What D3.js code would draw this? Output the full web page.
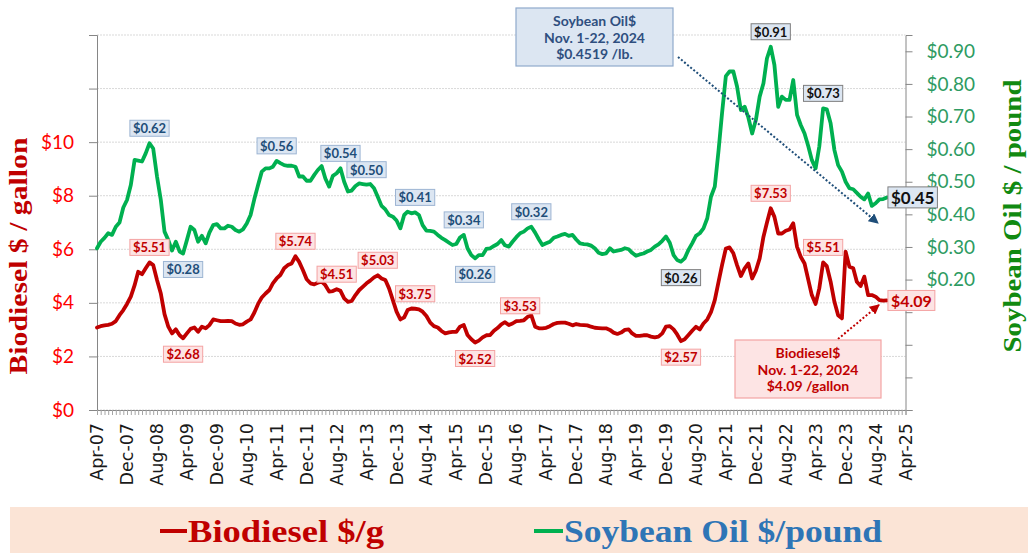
<!DOCTYPE html>
<html><head><meta charset="utf-8">
<script src="https://cdn.jsdelivr.net/npm/d3@7"></script>
<style>body{margin:0;background:#fff;} svg{display:block;}</style>
</head><body><svg id="c" width="1028" height="554"></svg>
<script>
// ---------- DATA ----------
const firstMonth = "2007-04";   // first observation
const biodiesel = [3.08,3.13,3.16,3.18,3.22,3.32,3.54,3.73,3.96,4.23,4.66,5.16,5.07,5.29,5.51,5.41,4.85,4.35,3.58,3.11,
2.86,3.01,2.79,2.68,2.86,3.03,3.08,2.92,3.11,3.05,3.17,3.38,3.35,3.32,3.32,3.33,3.32,3.23,3.18,3.20,
3.30,3.38,3.63,3.96,4.20,4.35,4.48,4.73,4.91,5.04,5.29,5.41,5.47,5.74,5.53,5.22,4.88,4.73,4.69,4.75,
4.79,4.66,4.42,4.44,4.51,4.45,4.17,4.04,4.07,4.29,4.48,4.60,4.73,4.83,4.95,5.03,4.91,4.85,4.54,4.10,
3.67,3.38,3.46,3.73,3.79,3.78,3.76,3.67,3.51,3.26,3.13,3.08,2.95,2.86,2.90,2.92,2.92,3.11,3.17,2.80,
2.64,2.52,2.59,2.71,2.79,2.80,2.96,3.06,3.20,3.28,3.17,3.23,3.32,3.33,3.35,3.48,3.53,3.11,3.05,3.05,
3.07,3.13,3.21,3.25,3.26,3.26,3.22,3.16,3.21,3.18,3.17,3.16,3.11,3.07,3.06,3.05,3.05,2.99,2.89,2.84,
2.89,2.99,3.01,2.86,2.77,2.77,2.79,2.79,2.74,2.71,2.74,2.86,3.11,3.13,3.01,2.82,2.57,2.64,2.80,2.96,
3.11,3.01,3.23,3.38,3.65,4.10,4.79,5.41,6.03,6.07,5.85,5.41,5.00,5.29,5.47,4.91,5.20,5.66,6.47,6.99,
7.53,7.21,6.59,6.59,6.69,6.74,6.97,6.09,5.72,5.47,4.85,4.29,3.96,4.54,5.51,5.37,4.79,4.04,3.54,3.42,
5.91,5.35,5.29,4.79,4.63,4.98,4.29,4.29,4.23,4.10,4.08,4.09];
const soybean = [0.296,0.316,0.328,0.342,0.337,0.362,0.375,0.421,0.444,0.490,0.567,0.565,0.562,0.587,0.618,0.602,0.516,0.444,0.347,0.321,
0.289,0.316,0.286,0.280,0.321,0.362,0.352,0.316,0.334,0.311,0.344,0.367,0.370,0.357,0.357,0.365,0.362,0.352,0.347,0.354,
0.372,0.398,0.446,0.490,0.531,0.541,0.541,0.546,0.564,0.557,0.551,0.549,0.549,0.546,0.516,0.516,0.503,0.503,0.521,0.536,
0.548,0.510,0.485,0.518,0.526,0.541,0.500,0.470,0.473,0.487,0.495,0.493,0.491,0.493,0.480,0.454,0.426,0.415,0.398,0.393,
0.381,0.357,0.398,0.408,0.403,0.406,0.398,0.367,0.350,0.349,0.347,0.337,0.328,0.321,0.313,0.306,0.309,0.329,0.337,0.296,
0.275,0.265,0.275,0.275,0.294,0.296,0.303,0.309,0.321,0.305,0.301,0.316,0.330,0.342,0.347,0.357,0.362,0.344,0.323,0.306,
0.311,0.316,0.328,0.332,0.337,0.340,0.334,0.337,0.323,0.311,0.309,0.308,0.304,0.296,0.282,0.278,0.280,0.296,0.286,0.289,
0.291,0.296,0.293,0.282,0.273,0.277,0.280,0.286,0.291,0.301,0.308,0.319,0.332,0.313,0.275,0.260,0.255,0.265,0.291,0.311,
0.334,0.342,0.357,0.388,0.454,0.485,0.597,0.710,0.824,0.838,0.838,0.792,0.720,0.730,0.697,0.648,0.689,0.761,0.802,0.878,
0.914,0.858,0.730,0.761,0.751,0.751,0.812,0.705,0.674,0.648,0.608,0.567,0.541,0.608,0.725,0.722,0.679,0.597,0.551,0.531,
0.500,0.480,0.477,0.466,0.454,0.446,0.464,0.426,0.434,0.446,0.447,0.452];

const xTickLabels = ["Apr-07","Dec-07","Aug-08","Apr-09","Dec-09","Aug-10","Apr-11","Dec-11","Aug-12","Apr-13",
"Dec-13","Aug-14","Apr-15","Dec-15","Aug-16","Apr-17","Dec-17","Aug-18","Apr-19","Dec-19","Aug-20","Apr-21",
"Dec-21","Aug-22","Apr-23","Dec-23","Aug-24","Apr-25"];
const leftTicks = [0,2,4,6,8,10,12,14];
const leftTickLabels = ["$0","$2","$4","$6","$8","$10","",""];
const rightTicks = [-0.2,-0.1,0,0.1,0.2,0.3,0.4,0.5,0.6,0.7,0.8,0.9];
const rightTickLabels = ["","","","","$0.20","$0.30","$0.40","$0.50","$0.60","$0.70","$0.80","$0.90"];

// data labels: month, text, side, style
const soyLabels = [
 ["2008-06","$0.62","above","blue"],["2009-03","$0.28","below","blue"],["2011-04","$0.56","above","blue"],
 ["2012-09","$0.54","above","blue"],["2013-04","$0.50","above","blue"],["2014-05","$0.41","above","blue"],
 ["2015-06","$0.34","above","blue"],["2015-09","$0.26","below","blue"],["2016-12","$0.32","above","blue"],
 ["2020-04","$0.26","below","dark"],["2022-04","$0.91","above","dark"],["2023-06","$0.73","above","dark"],
 ["2024-11","$0.45","right","darkbig"]];
const bioLabels = [
 ["2008-06","$5.51","above","red"],["2009-03","$2.68","below","red"],["2011-09","$5.74","above","red"],
 ["2012-08","$4.51","above","red"],["2013-07","$5.03","above","red"],["2014-05","$3.75","above","red"],
 ["2015-09","$2.52","below","red"],["2016-09","$3.53","above","red"],["2020-04","$2.57","below","red"],
 ["2022-04","$7.53","above","red"],["2023-06","$5.51","above","red"],["2024-11","$4.09","right","redbig"]];

const soyNote = ["Soybean Oil$","Nov. 1-22, 2024","$0.4519 /lb."];
const bioNote = ["Biodiesel$","Nov. 1-22, 2024","$4.09 /gallon"];
const legendItems = [["Biodiesel $/g","#C00000","#C00000"],["Soybean Oil $/pound","#00B050","#2E75B6"]];

// ---------- CHART ----------
const svg = d3.select("#c");
const parseM = d3.timeParse("%Y-%m");
const t0 = parseM(firstMonth);
const months = biodiesel.map((_,i)=>d3.timeMonth.offset(t0,i));
const xStart = parseM("2007-04"), xEnd = parseM("2025-04");
const L = 97, R = 905.5, T = 35, B = 410;
const x = d3.scaleTime().domain([xStart,xEnd]).range([L,R]);
const yL = d3.scaleLinear().domain([0,14]).range([B,T]);
const yR = d3.scaleLinear().domain([-0.2,0.95]).range([B,T]);

// gridlines
svg.append("g").selectAll("line").data(leftTicks).join("line")
  .attr("x1",L).attr("x2",R).attr("y1",d=>yL(d)).attr("y2",d=>yL(d))
  .attr("stroke","#d9d9d9").attr("stroke-width",1).attr("stroke-dasharray","2,1");

// left axis
const axL = svg.append("g").attr("transform",`translate(${L},0)`)
  .call(d3.axisLeft(yL).tickValues(leftTicks).tickSize(8).tickPadding(15).tickFormat((d,i)=>leftTickLabels[i]));
axL.select(".domain").attr("stroke","#868686");
axL.selectAll(".tick line").attr("stroke","#868686");
axL.selectAll("text").attr("fill","#FF0000").attr("font-family","Lato, sans-serif").attr("font-size",19);

// right axis
const axR = svg.append("g").attr("transform",`translate(${R},0)`)
  .call(d3.axisRight(yR).tickValues(rightTicks).tickSize(7).tickPadding(14).tickFormat((d,i)=>rightTickLabels[i]));
axR.select(".domain").attr("stroke","#868686");
axR.selectAll(".tick line").attr("stroke","#868686");
axR.selectAll("text").attr("fill","#2E9B62").attr("font-family","Lato, sans-serif").attr("font-size",19);

// bottom axis minor ticks
const axB = svg.append("g").attr("transform",`translate(0,${B})`)
  .call(d3.axisBottom(x).tickValues(d3.timeMonth.range(xStart,d3.timeMonth.offset(xEnd,1))).tickSize(5).tickFormat(""));
axB.select(".domain").attr("stroke","#868686");
axB.selectAll(".tick line").attr("stroke","#a6a6a6");
// major labels
const majors = xTickLabels.map((s,i)=>d3.timeMonth.offset(xStart,i*8));
svg.append("g").selectAll("text").data(majors).join("text")
  .attr("transform",d=>`translate(${x(d)},${B+13}) rotate(-90)`)
  .attr("text-anchor","end").attr("dominant-baseline","central")
  .attr("font-family","DejaVu Sans, sans-serif").attr("font-size",17.5).attr("fill","#1a1a1a")
  .text((d,i)=>xTickLabels[i]);

// lines
const lineBio = d3.line().x((d,i)=>x(months[i])).y(d=>yL(d));
const lineSoy = d3.line().x((d,i)=>x(months[i])).y(d=>yR(d));
svg.append("path").datum(soybean).attr("d",lineSoy).attr("fill","none").attr("stroke","#00B050")
  .attr("stroke-width",3.8).attr("stroke-linejoin","round").attr("stroke-linecap","round");
svg.append("path").datum(biodiesel).attr("d",lineBio).attr("fill","none").attr("stroke","#C00000")
  .attr("stroke-width",3.8).attr("stroke-linejoin","round").attr("stroke-linecap","round");

// data labels
const styles = {
  blue:{fill:"#DCE6F2",stroke:"#9DB5D3",text:"#1F4E79",size:13,h:16},
  dark:{fill:"#DCE6F2",stroke:"#7F7F7F",text:"#111",size:13,h:16},
  darkbig:{fill:"#DCE6F2",stroke:"#7F7F7F",text:"#111",size:17,h:21},
  red:{fill:"#FDE4E4",stroke:"#F4A3A3",text:"#C00000",size:13,h:16},
  redbig:{fill:"#FDE4E4",stroke:"#F4A3A3",text:"#C00000",size:16,h:20}
};
const gl = svg.append("g");
function addLabel(series, scale, lab){
  const [m,txt,side,st] = lab;
  const d = parseM(m);
  const idx = d3.timeMonth.count(t0,d);
  const px = x(d), py = scale(series[idx]);
  const s = styles[st];
  const g = gl.append("g");
  const t = g.append("text").attr("font-family","Lato, sans-serif").attr("font-weight","bold")
    .attr("font-size",s.size).attr("fill",s.text).attr("dominant-baseline","central").text(txt);
  const w = t.node().getComputedTextLength();
  let cx, cy;
  if(side==="above"){cx=px;cy=py-15;}
  else if(side==="below"){cx=px;cy=py+16;}
  else {cx=px+1+w/2+3;cy=py;}
  t.attr("x",cx).attr("y",cy).attr("text-anchor","middle");
  g.insert("rect","text").attr("x",cx-w/2-3).attr("y",cy-s.h/2).attr("width",w+6).attr("height",s.h)
    .attr("fill",s.fill).attr("stroke",s.stroke).attr("stroke-width",1);
}
soyLabels.forEach(l=>addLabel(soybean,yR,l));
bioLabels.forEach(l=>addLabel(biodiesel,yL,l));

// callouts
const defs = svg.append("defs");
[["arrBlue","#1F4E79"],["arrRed","#C00000"]].forEach(([id,c])=>{
  defs.append("marker").attr("id",id).attr("viewBox","0 0 10 10").attr("refX",9).attr("refY",5)
    .attr("markerWidth",5).attr("markerHeight",5).attr("orient","auto")
    .append("path").attr("d","M0,0 L10,5 L0,10 z").attr("fill",c);
});
svg.append("line").attr("x1",678).attr("y1",57).attr("x2",878).attr("y2",223)
  .attr("stroke","#1F4E79").attr("stroke-width",2).attr("stroke-dasharray","2,2").attr("marker-end","url(#arrBlue)");
svg.append("line").attr("x1",838).attr("y1",339).attr("x2",879).attr("y2",305)
  .attr("stroke","#C00000").attr("stroke-width",2).attr("stroke-dasharray","2,2").attr("marker-end","url(#arrRed)");

function note(lines,bx,by,bw,bh,fill,stroke,color){
  svg.append("rect").attr("x",bx).attr("y",by).attr("width",bw).attr("height",bh)
    .attr("fill",fill).attr("stroke",stroke).attr("stroke-width",1.2);
  svg.append("g").selectAll("text").data(lines).join("text")
    .attr("x",bx+bw/2).attr("y",(d,i)=>by+12.5+i*16.5).attr("text-anchor","middle").attr("dominant-baseline","central")
    .attr("font-family","Lato, sans-serif").attr("font-weight","bold").attr("font-size",14).attr("fill",color).text(d=>d);
}
note(soyNote,516,8,157,58,"#DCE6F2","#8FAACC","#2F4F7F");
note(bioNote,735,340,146,58,"#FDE4E4","#F4A3A3","#C00000");

// axis titles
svg.append("text").attr("transform","translate(18,256) rotate(-90)").attr("text-anchor","middle")
  .attr("dominant-baseline","central").attr("font-family","Liberation Serif, serif").attr("font-weight","bold")
  .attr("font-size",25).attr("fill","#C00000").attr("textLength",237).attr("lengthAdjust","spacingAndGlyphs")
  .text("Biodiesel $ / gallon");
svg.append("text").attr("transform","translate(1012,216) rotate(-90)").attr("text-anchor","middle")
  .attr("dominant-baseline","central").attr("font-family","Liberation Serif, serif").attr("font-weight","bold")
  .attr("font-size",25).attr("fill","#118A11").attr("textLength",273).attr("lengthAdjust","spacingAndGlyphs")
  .text("Soybean Oil $ / pound");

// legend
svg.append("rect").attr("x",10).attr("y",507).attr("width",1018).attr("height",46).attr("fill","#FBE4D6");
const legX = [[160,188,196],[534,564,318]];
legendItems.forEach(([txt,lc,tc],i)=>{
  const [lx,tx,tl] = legX[i];
  svg.append("line").attr("x1",lx).attr("x2",tx-1).attr("y1",531).attr("y2",531).attr("stroke",lc).attr("stroke-width",4);
  svg.append("text").attr("x",tx).attr("y",531).attr("dominant-baseline","central")
    .attr("font-family","Liberation Serif, serif").attr("font-weight","bold").attr("font-size",31)
    .attr("fill",tc).attr("textLength",tl).attr("lengthAdjust","spacingAndGlyphs").text(txt);
});
</script></body></html>
